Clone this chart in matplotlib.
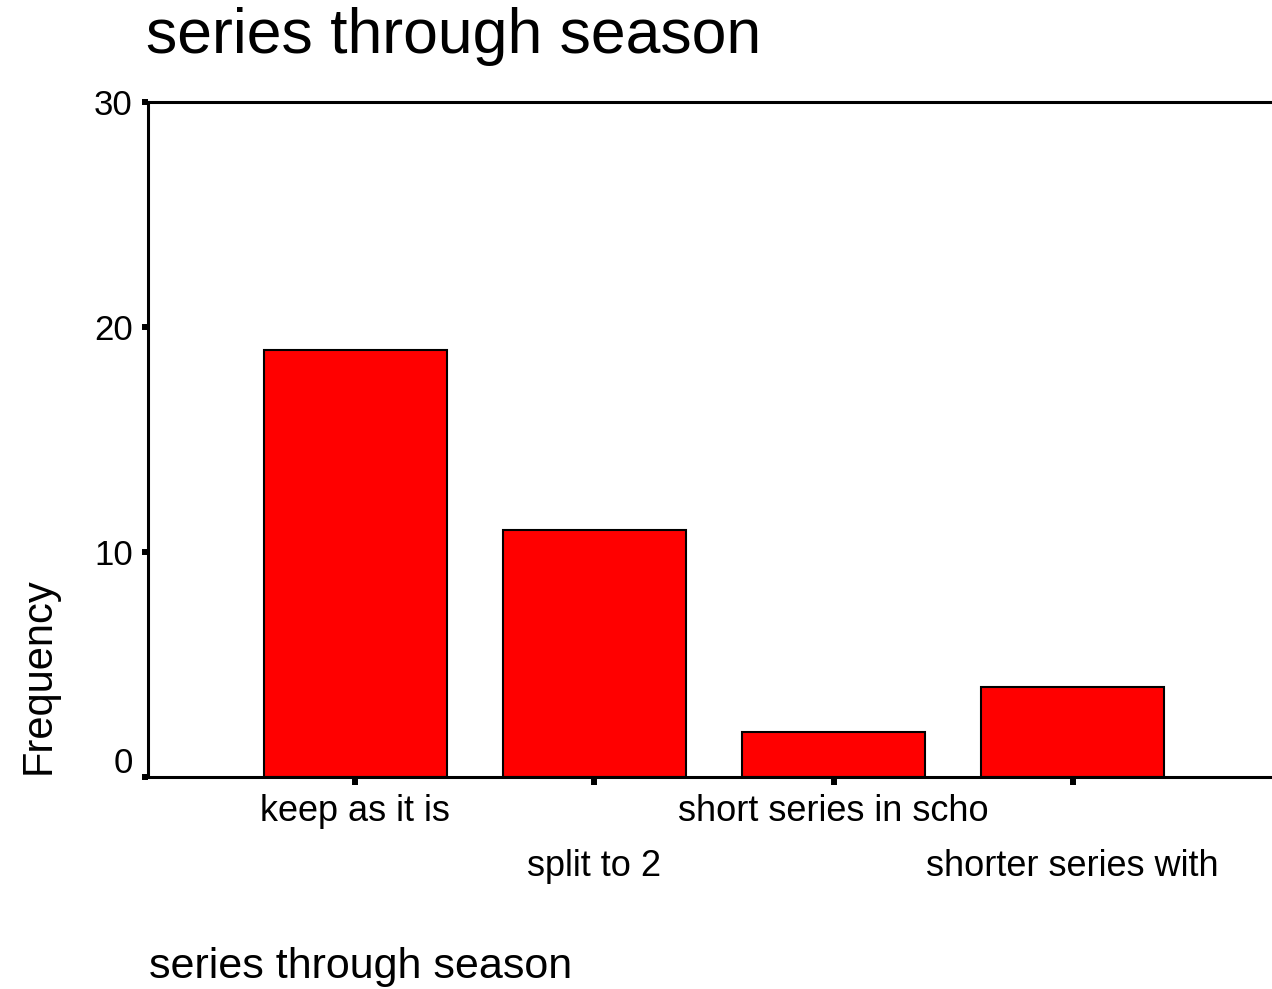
import matplotlib
matplotlib.use("Agg")
import matplotlib.pyplot as plt
import matplotlib.transforms as mtransforms

plt.rcParams['font.family'] = ['Liberation Sans', 'DejaVu Sans']

categories = ['keep as it is', 'split to 2', 'short series in scho', 'shorter series with']
counts = [19, 11, 2, 4]
yticks = [0, 10, 20, 30]
title = 'series through season'

fig = plt.figure(figsize=(12.72, 9.89), dpi=100)
ax = fig.add_axes([148/1272, 212/989, 1 - 148/1272, 675/989])

xpos = list(range(len(categories)))
ax.bar(xpos, counts, width=0.766, color='#ff0000', edgecolor='black', linewidth=1.5, zorder=2)

ax.set_xlim(-0.866, 3.833)
ax.set_ylim(0, 30)

for side in ['left', 'top', 'bottom']:
    ax.spines[side].set_linewidth(2.2)
ax.spines['right'].set_visible(False)

ax.set_yticks(yticks)
ax.set_yticklabels([str(v) for v in yticks])
ax.set_xticks(xpos)
ax.set_xticklabels(categories)
ax.tick_params(axis='y', direction='out', length=4.5, width=4.3, labelsize=25, pad=6.5)
ax.tick_params(axis='x', direction='out', length=5.5, width=4.3, labelsize=26, pad=7)

# stagger every second category label
for i, lab in enumerate(ax.get_xticklabels()):
    if i % 2 == 1:
        lab.set_transform(lab.get_transform() +
                          mtransforms.ScaledTranslation(0, -0.55, fig.dpi_scale_trans))

# the 0 label sits above the baseline
ylab0 = ax.get_yticklabels()[0]
ylab0.set_transform(ylab0.get_transform() +
                    mtransforms.ScaledTranslation(0, 0.17, fig.dpi_scale_trans))

fig.text(146/1272, (989 - 53)/989, title, fontsize=45, ha='left', va='baseline')
fig.text(149/1272, (989 - 978)/989, title, fontsize=31, ha='left', va='baseline')
fig.text(50/1272, (989 - 774)/989, 'Frequency', fontsize=30, rotation=90,
         rotation_mode='anchor', ha='left', va='baseline')

fig.savefig('out.png', dpi=100)
